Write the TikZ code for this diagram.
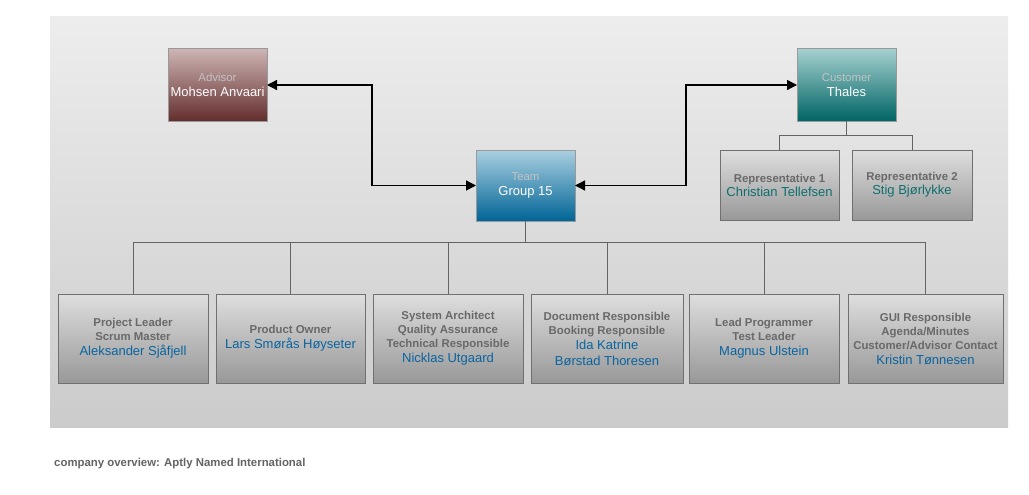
\documentclass[tikz,border=0pt]{standalone}
\usepackage{fontspec}
\setmainfont{Liberation Sans}
\usetikzlibrary{arrows.meta}
\definecolor{panelTop}{RGB}{237,237,237}
\definecolor{panelBot}{RGB}{203,203,203}
\definecolor{boxTop}{RGB}{222,222,222}
\definecolor{boxBot}{RGB}{152,152,152}
\definecolor{boxLine}{RGB}{112,112,112}
\definecolor{lblGray}{RGB}{105,105,105}
\definecolor{nameBlue}{RGB}{10,100,160}
\definecolor{nameTeal}{RGB}{15,110,110}
\definecolor{advTop}{RGB}{205,180,180}
\definecolor{advBot}{RGB}{100,45,45}
\definecolor{cusTop}{RGB}{165,208,208}
\definecolor{cusBot}{RGB}{0,100,100}
\definecolor{teamTop}{RGB}{170,208,225}
\definecolor{teamBot}{RGB}{0,100,150}
\definecolor{topLbl}{RGB}{195,195,195}
\definecolor{capGray}{RGB}{100,100,100}
\definecolor{treeGray}{RGB}{100,100,100}
\newcommand\lblx[1]{{\bfseries\color{lblGray}#1}}
\newcommand\nmb[1]{{\fontsize{13}{16}\selectfont\color{nameBlue}#1}}
\newcommand\nmt[1]{{\fontsize{13}{16}\selectfont\color{nameTeal}#1}}
\newcommand\toplbl[1]{{\color{topLbl}#1}}
\newcommand\topnm[1]{{\fontsize{13}{16}\selectfont\color{white}#1}}
\tikzset{
  panel/.style={draw=none, top color=panelTop, bottom color=panelBot},
  member/.style={draw=boxLine, line width=1pt, top color=boxTop, bottom color=boxBot,
    inner sep=0pt, outer sep=0pt, align=center, font=\fontsize{11.4}{14}\selectfont},
  headbox/.style={draw=gray!80, line width=1pt, inner sep=0pt, outer sep=0pt,
    minimum width=99pt, minimum height=72pt, align=center, font=\fontsize{11.4}{14}\selectfont},
  link/.style={line width=1.3pt, draw=black,
    {Triangle[length=10pt,width=10pt]}-{Triangle[length=10pt,width=10pt]}},
  tree/.style={line width=1pt, draw=treeGray},
  caption/.style={anchor=west, inner sep=0pt, text=capGray,
    font=\fontsize{11.4}{13}\selectfont\bfseries}
}
\begin{document}
\begin{tikzpicture}[x=1pt,y=-1pt]
\useasboundingbox (0,0) rectangle (1029,495);
\fill[white] (0,0) rectangle (1029,495);
\shade[panel] (50,17) rectangle (1008,427);

\node[headbox, top color=advTop, bottom color=advBot] (advisor) at (217.5,85)
  {\toplbl{Advisor}\\[1.5pt]\topnm{Mohsen Anvaari}};
\node[headbox, top color=cusTop, bottom color=cusBot] (customer) at (846.5,85)
  {\toplbl{Customer}\\[1.5pt]\topnm{Thales}};
\node[headbox, top color=teamTop, bottom color=teamBot, minimum height=71pt] (team) at (525.5,185.5)
  {\toplbl{Team}\\[1.5pt]\topnm{Group 15}};

\node[member, minimum width=119pt, minimum height=70pt] (r1) at (779.5,185)
  {\lblx{Representative 1}\\\nmt{Christian Tellefsen}};
\node[member, minimum width=120pt, minimum height=70pt] (r2) at (912,185)
  {\lblx{Representative 2}\\\nmt{Stig Bjørlykke}};

\node[member, minimum width=150pt, minimum height=89pt] (m1) at (133,338.5)
  {\lblx{Project Leader}\\\lblx{Scrum Master}\\[1pt]\nmb{Aleksander Sjåfjell}};
\node[member, minimum width=149pt, minimum height=89pt] (m2) at (290.5,338.5)
  {\lblx{Product Owner}\\[1pt]\nmb{Lars Smørås Høyseter}};
\node[member, minimum width=150pt, minimum height=89pt] (m3) at (448,338.5)
  {\lblx{System Architect}\\\lblx{Quality Assurance}\\\lblx{Technical Responsible}\\[1pt]\nmb{Nicklas Utgaard}};
\node[member, minimum width=152pt, minimum height=89pt] (m4) at (607,338.5)
  {\lblx{Document Responsible}\\\lblx{Booking Responsible}\\[1pt]\nmb{Ida Katrine}\\[2pt]\nmb{Børstad Thoresen}};
\node[member, minimum width=150pt, minimum height=89pt] (m5) at (764,338.5)
  {\lblx{Lead Programmer}\\\lblx{Test Leader}\\[1pt]\nmb{Magnus Ulstein}};
\node[member, minimum width=155pt, minimum height=89pt] (m6) at (925.5,338.5)
  {\lblx{GUI Responsible}\\\lblx{Agenda/Minutes}\\\lblx{Customer/Advisor Contact}\\[1pt]\nmb{Kristin Tønnesen}};

\coordinate (jl) at (372,0);
\coordinate (jr) at (686,0);
\draw[link] (advisor.east) -- (advisor.east -| jl) |- (team.west);
\draw[link] (team.east) -- (team.east -| jr) |- (customer.west);

\foreach \m in {m1,m2,m3,m4,m5,m6}
  \draw[tree] (team.south) -- ++(0,21.5) -| (\m.north);
\foreach \r in {r1,r2}
  \draw[tree] (customer.south) -- ++(0,14) -| (\r.north);

\node[caption] (cap) at (54,464) {company overview: Aptly Named International};
\end{tikzpicture}
\end{document}
